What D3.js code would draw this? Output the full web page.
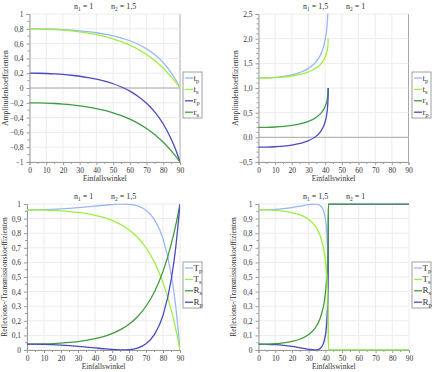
<!DOCTYPE html>
<html>
<head>
<meta charset="utf-8">
<script src="https://cdn.jsdelivr.net/npm/d3@7"></script>
<style>
  body { margin: 0; background: #fff; }
  text { font-family: "Liberation Serif", "DejaVu Serif", serif; fill: #333; }
</style>
</head>
<body>
<div id="chart"></div>
<script>
// n1 = 1, n2 = 1,5 : amplitude coefficients
const angA = [0, 5, 10, 15, 20, 25, 30, 35, 40, 45, 50, 55, 60, 65, 70, 75, 80, 85, 87.5, 90];
const tpA = [0.8, 0.7993, 0.7973, 0.7937, 0.7886, 0.7817, 0.7726, 0.7610, 0.7464, 0.7280, 0.7048, 0.6756, 0.6384, 0.5908, 0.5292, 0.4488, 0.3423, 0.1985, 0.1075, 0];
const tsA = [0.8, 0.7990, 0.7959, 0.7906, 0.7830, 0.7728, 0.7596, 0.7429, 0.7222, 0.6967, 0.6653, 0.6268, 0.5798, 0.5224, 0.4527, 0.3681, 0.2661, 0.1442, 0.0751, 0];
const rpA = [0.2, 0.1990, 0.1959, 0.1906, 0.1829, 0.1725, 0.1589, 0.1416, 0.1196, 0.0920, 0.0573, 0.0133, -0.0425, -0.1139, -0.2061, -0.3268, -0.4866, -0.7023, -0.8387, -1];
const rsA = [-0.2, -0.2010, -0.2041, -0.2094, -0.2170, -0.2272, -0.2404, -0.2571, -0.2778, -0.3033, -0.3347, -0.3732, -0.4202, -0.4776, -0.5474, -0.6320, -0.7339, -0.8558, -0.9250, -1];

// n1 = 1,5, n2 = 1 : amplitude coefficients (up to the critical angle)
const angB = [0, 5, 10, 15, 20, 25, 30, 35, 37.5, 40, 41, 41.5, 41.7, 41.81];
const tpB = [1.2, 1.2035, 1.2143, 1.2340, 1.2657, 1.3158, 1.3982, 1.5518, 1.6942, 1.9745, 2.2171, 2.4584, 2.6506, 3];
const tsB = [1.2, 1.2023, 1.2095, 1.2225, 1.2430, 1.2748, 1.3252, 1.4136, 1.4897, 1.6249, 1.7287, 1.8216, 1.8893, 2];
const rsB = [0.2, 0.2023, 0.2095, 0.2225, 0.2430, 0.2748, 0.3252, 0.4136, 0.4897, 0.6249, 0.7287, 0.8216, 0.8893, 1];
const rpB = [-0.2, -0.1977, -0.1905, -0.1773, -0.1562, -0.1228, -0.0679, 0.0345, 0.1295, 0.3164, 0.4781, 0.6389, 0.7671, 1];

// n1 = 1, n2 = 1,5 : reflection / transmission
const angC = [0, 5, 10, 15, 20, 25, 30, 35, 40, 45, 50, 55, 56.3, 60, 65, 70, 75, 80, 85, 87.5, 90];
const TpC = [0.96, 0.9604, 0.9616, 0.9637, 0.9665, 0.9702, 0.9747, 0.9800, 0.9857, 0.9915, 0.9967, 0.9998, 1, 0.9982, 0.9870, 0.9575, 0.8932, 0.7632, 0.5068, 0.2966, 0];
const TsC = [0.96, 0.9596, 0.9583, 0.9562, 0.9529, 0.9484, 0.9422, 0.9339, 0.9228, 0.9080, 0.8879, 0.8607, 0.8521, 0.8234, 0.7719, 0.7004, 0.6006, 0.4614, 0.2677, 0.1445, 0];
const RsC = [0.04, 0.0404, 0.0417, 0.0438, 0.0471, 0.0516, 0.0578, 0.0661, 0.0772, 0.0920, 0.1121, 0.1393, 0.1479, 0.1766, 0.2281, 0.2996, 0.3994, 0.5386, 0.7323, 0.8555, 1];
const RpC = [0.04, 0.0396, 0.0384, 0.0363, 0.0335, 0.0298, 0.0253, 0.0200, 0.0143, 0.0085, 0.0033, 0.0002, 0, 0.0018, 0.0130, 0.0425, 0.1068, 0.2368, 0.4932, 0.7034, 1];

// n1 = 1,5, n2 = 1 : reflection / transmission
const angD = [0, 5, 10, 15, 20, 25, 30, 33.7, 35, 37.5, 40, 41, 41.5, 41.7, 41.81, 90];
const TpD = [0.96, 0.9609, 0.9637, 0.9685, 0.9756, 0.9849, 0.9954, 1, 0.9988, 0.9832, 0.8999, 0.7715, 0.5918, 0.4116, 0, 0];
const TsD = [0.96, 0.9591, 0.9561, 0.9505, 0.9409, 0.9245, 0.8942, 0.8521, 0.8289, 0.7602, 0.6095, 0.4690, 0.3249, 0.2091, 0, 0];
const RsD = [0.04, 0.0409, 0.0439, 0.0495, 0.0591, 0.0755, 0.1058, 0.1479, 0.1711, 0.2398, 0.3905, 0.5310, 0.6751, 0.7909, 1, 1];
const RpD = [0.04, 0.0391, 0.0363, 0.0315, 0.0244, 0.0151, 0.0046, 0, 0.0012, 0.0168, 0.1001, 0.2285, 0.4082, 0.5884, 1, 1];

const xTicks = [0, 10, 20, 30, 40, 50, 60, 70, 80, 90];

const colTp = '#9ab6f6';
const colTs = '#9ef03e';
const colRp = '#4a4ac0';
const colRs = '#3f9c3f';

const svg = d3.select('#chart').append('svg')
  .attr('width', 440)
  .attr('height', 372);

const commaFmt = (v, digits) => {
  let s = digits ? v.toFixed(digits) : String(Math.round(v * 10) / 10);
  return s.replace('.', ',').replace('-', '\u2212');
};

// writes "base" with a lowered subscript
const subText = (sel, base, sub, size) => {
  sel.append('tspan').text(base).style('font-size', size + 'px');
  sel.append('tspan').text(sub).attr('dy', 2).style('font-size', (size - 2.5) + 'px');
};

const drawPanel = (cfg, idx) => {
  const g = svg.append('g');
  const x = d3.scaleLinear().domain([0, 90]).range([cfg.left, cfg.right]);
  const y = d3.scaleLinear().domain(cfg.yDomain).range([cfg.bottom, cfg.top]);

  // grid
  g.selectAll('.vgrid').data(xTicks).enter().append('line')
    .attr('x1', (d) => x(d)).attr('x2', (d) => x(d))
    .attr('y1', cfg.top).attr('y2', cfg.bottom)
    .attr('stroke', (d) => (d === 90 && cfg.rightEdge) ? '#a8a8a8' : '#ececec')
    .attr('stroke-width', 1);
  g.selectAll('.hgrid').data(cfg.yTicks).enter().append('line')
    .attr('x1', cfg.left).attr('x2', cfg.right)
    .attr('y1', (d) => y(d)).attr('y2', (d) => y(d))
    .attr('stroke', '#ececec');

  if (cfg.zeroLine) {
    g.append('line')
      .attr('x1', cfg.left).attr('x2', cfg.right)
      .attr('y1', y(0)).attr('y2', y(0))
      .attr('stroke', '#a8a8a8');
  }

  // axes
  const xAxis = d3.axisBottom(x).tickValues(xTicks).tickSize(3).tickPadding(3)
    .tickFormat((d) => d);
  const xa = g.append('g').attr('transform', 'translate(0,' + cfg.bottom + ')').call(xAxis);
  const yAxis = d3.axisLeft(y).tickValues(cfg.yTicks).tickSize(3).tickPadding(3)
    .tickFormat(cfg.fmt);
  const ya = g.append('g').attr('transform', 'translate(' + cfg.left + ',0)').call(yAxis);
  [xa, ya].forEach((a) => {
    a.select('.domain').attr('stroke', '#9a9a9a');
    a.selectAll('.tick line').attr('stroke', '#9a9a9a');
    a.selectAll('.tick text')
      .style('font-family', '"Liberation Serif", serif')
      .style('font-size', '7.5px')
      .attr('fill', '#444');
  });

  // minor ticks
  g.selectAll('.xminor').data(d3.range(5, 90, 10)).enter().append('line')
    .attr('x1', (d) => x(d)).attr('x2', (d) => x(d))
    .attr('y1', cfg.bottom).attr('y2', cfg.bottom + 2)
    .attr('stroke', '#9a9a9a');
  g.selectAll('.yminor').data(cfg.yMinor).enter().append('line')
    .attr('x1', cfg.left - 2).attr('x2', cfg.left)
    .attr('y1', (d) => y(d)).attr('y2', (d) => y(d))
    .attr('stroke', '#9a9a9a');

  // curves
  const clipId = 'clip' + idx;
  g.append('clipPath').attr('id', clipId).append('rect')
    .attr('x', cfg.left).attr('y', cfg.top - 0.5)
    .attr('width', cfg.right - cfg.left).attr('height', cfg.bottom - cfg.top + 1);

  const line = d3.line()
    .x((d) => x(d[0]))
    .y((d) => y(d[1]))
    .curve(d3.curveMonotoneX);

  const drawOrder = cfg.drawOrder || cfg.series.map((s, i) => i);
  drawOrder.forEach((k) => {
    const s = cfg.series[k];
    const pts = s.angles.map((a, i) => [a, s.values[i]]);
    g.append('path')
      .datum(pts)
      .attr('clip-path', 'url(#' + clipId + ')')
      .attr('fill', 'none')
      .attr('stroke', s.color)
      .attr('stroke-width', 1.3)
      .attr('d', line);
  });

  // title
  const t1 = g.append('text').attr('x', cfg.n1x).attr('y', cfg.titleY);
  subText(t1, 'n', '1', 8);
  t1.append('tspan').attr('dy', -2).text(' = ' + cfg.n1).style('font-size', '8px');
  const t2 = g.append('text').attr('x', cfg.n2x).attr('y', cfg.titleY);
  subText(t2, 'n', '2', 8);
  t2.append('tspan').attr('dy', -2).text(' = ' + cfg.n2).style('font-size', '8px');

  // axis labels
  g.append('text')
    .attr('x', (cfg.left + cfg.right) / 2)
    .attr('y', cfg.bottom + 19)
    .attr('text-anchor', 'middle')
    .style('font-size', '7.5px')
    .text('Einfallswinkel');
  g.append('text')
    .attr('transform', 'translate(' + cfg.ylabX + ',' + ((cfg.top + cfg.bottom) / 2) + ') rotate(-90)')
    .attr('text-anchor', 'middle')
    .style('font-size', '7.5px')
    .text(cfg.ylabel);

  // legend
  const lg = g.append('g').attr('transform', 'translate(' + cfg.legX + ',' + cfg.legY + ')');
  lg.append('rect')
    .attr('width', 19).attr('height', 46)
    .attr('fill', '#fff')
    .attr('stroke', '#a0a0a0');
  cfg.series.forEach((s, i) => {
    const yy = 6 + i * 11.4;
    lg.append('line')
      .attr('x1', 2).attr('x2', 10)
      .attr('y1', yy).attr('y2', yy)
      .attr('stroke', s.color).attr('stroke-width', 1.3);
    const t = lg.append('text').attr('x', 10.5).attr('y', yy + 2.5);
    subText(t, s.name, s.sub, 9);
  });
};

const fmtA = (v) => (v === 1 || v === -1 || v === 0) ? commaFmt(v) : commaFmt(v, 1);
const fmtB = (v) => commaFmt(v, 1);
const fmtC = (v) => (v === 1 || v === 0) ? String(v) : commaFmt(v, 1);

const panels = [
  {
    left: 29.5, right: 180, top: 14, bottom: 162,
    yDomain: [-1, 1],
    yTicks: d3.range(-1, 1.01, 0.2).map((v) => Math.round(v * 10) / 10),
    yMinor: d3.range(-0.9, 1, 0.2).map((v) => Math.round(v * 10) / 10),
    fmt: fmtA, zeroLine: true, rightEdge: true,
    n1x: 74, n2x: 111, titleY: 9, n1: '1', n2: '1,5',
    ylabX: 8, ylabel: 'Amplitudenkoeffizienten',
    legX: 183, legY: 72,
    series: [
      { name: 't', sub: 'p', color: colTp, angles: angA, values: tpA },
      { name: 't', sub: 's', color: colTs, angles: angA, values: tsA },
      { name: 'r', sub: 'p', color: colRp, angles: angA, values: rpA },
      { name: 'r', sub: 's', color: colRs, angles: angA, values: rsA }
    ]
  },
  {
    left: 258.5, right: 408.5, top: 14, bottom: 162,
    yDomain: [-0.5, 2.5],
    yTicks: [-0.5, 0, 0.5, 1, 1.5, 2, 2.5],
    yMinor: d3.range(-0.4, 2.5, 0.1).map((v) => Math.round(v * 10) / 10).filter((v) => Math.abs(v * 2 - Math.round(v * 2)) > 0.01),
    fmt: fmtB, zeroLine: true, rightEdge: true,
    n1x: 303, n2x: 346, titleY: 9, n1: '1,5', n2: '1',
    ylabX: 238, ylabel: 'Amplitudenkoeffizienten',
    legX: 412, legY: 72,
    series: [
      { name: 't', sub: 'p', color: colTp, angles: angB, values: tpB },
      { name: 't', sub: 's', color: colTs, angles: angB, values: tsB },
      { name: 'r', sub: 's', color: colRs, angles: angB, values: rsB },
      { name: 'r', sub: 'p', color: colRp, angles: angB, values: rpB }
    ]
  },
  {
    left: 27, right: 180, top: 204, bottom: 350,
    yDomain: [0, 1],
    yTicks: d3.range(0, 1.01, 0.1).map((v) => Math.round(v * 10) / 10),
    yMinor: d3.range(0.05, 1, 0.1),
    fmt: fmtC, zeroLine: false, rightEdge: false,
    n1x: 74, n2x: 111, titleY: 199, n1: '1', n2: '1,5',
    ylabX: 7, ylabel: 'Reflexions-/Transmissionskoeffizienten',
    legX: 183, legY: 262,
    series: [
      { name: 'T', sub: 'p', color: colTp, angles: angC, values: TpC },
      { name: 'T', sub: 's', color: colTs, angles: angC, values: TsC },
      { name: 'R', sub: 's', color: colRs, angles: angC, values: RsC },
      { name: 'R', sub: 'p', color: colRp, angles: angC, values: RpC }
    ]
  },
  {
    left: 258.5, right: 409, top: 204, bottom: 350,
    yDomain: [0, 1],
    yTicks: d3.range(0, 1.01, 0.1).map((v) => Math.round(v * 10) / 10),
    yMinor: d3.range(0.05, 1, 0.1),
    fmt: fmtC, zeroLine: false, rightEdge: false,
    n1x: 303, n2x: 346, titleY: 199, n1: '1,5', n2: '1',
    ylabX: 236, ylabel: 'Reflexions-/Transmissionskoeffizienten',
    legX: 412, legY: 262,
    drawOrder: [0, 3, 2, 1],
    series: [
      { name: 'T', sub: 'p', color: colTp, angles: angD, values: TpD },
      { name: 'T', sub: 's', color: colTs, angles: angD, values: TsD },
      { name: 'R', sub: 's', color: colRs, angles: angD, values: RsD },
      { name: 'R', sub: 'p', color: colRp, angles: angD, values: RpD }
    ]
  }
];

panels.forEach((p, i) => drawPanel(p, i));
</script>
</body>
</html>
